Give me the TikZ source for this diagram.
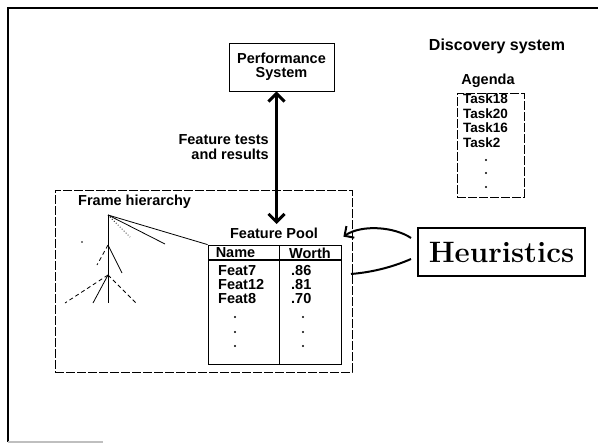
\documentclass[tikz,border=0pt]{standalone}
\usepackage{fontspec}
\setsansfont{Liberation Sans}
\usepackage{tikz}
\usetikzlibrary{arrows.meta}

\begin{document}
\begin{tikzpicture}[x=1pt,y=-1pt,
    every node/.style={font=\sffamily\bfseries\fontsize{14.5}{14.5}\selectfont,inner sep=0pt},
    box/.style={draw,thick},
    scanbox/.style={draw,thick,dash pattern=on 9pt off 2pt},
    tasktext/.style={anchor=west,font=\sffamily\bfseries\fontsize{13.5}{14.5}\selectfont},
    twoway/.style={line width=3pt,{Straight Barb[length=8pt,width=16pt]}-{Straight Barb[length=8pt,width=16pt]}},
    heurline/.style={line width=2pt},
    dot/.style={fill=black}]

    \useasboundingbox (0,0) rectangle (598,444);

    % page frame
    \draw[line width=1.5pt] (8,442) -- (8,8) -- (598,8);
    \draw[gray!50,line width=1.5pt] (8,442) -- (103,442);

    \node[box,minimum width=105pt,minimum height=48pt,align=center] (perf) at (281.5,67) {Performance\\System};
    \node[anchor=east,align=right] (tests) at (269,147) {Feature tests\\and results};

    \node[font=\sffamily\bfseries\fontsize{16}{17}\selectfont] (disc) at (497,46) {Discovery system};
    \node (agenda) at (488,81) {Agenda};
    \node[scanbox,minimum width=67pt,minimum height=104pt] (agbox) at (490.5,145) {};
    \node[tasktext] (t18) at (463,99)  {Task18};
    \node[tasktext] (t20) at (463,114) {Task20};
    \node[tasktext] (t16) at (463,128) {Task16};
    \node[tasktext] (t2)  at (463,143) {Task2};
    \fill[dot] (486,160) circle (1.2pt);
    \fill[dot] (486,173) circle (1.2pt);
    \fill[dot] (486,187) circle (1.2pt);

    % frame hierarchy
    \node[scanbox,minimum width=297pt,minimum height=182pt] (frame) at (203.5,281) {};
    \node[anchor=west] (fh) at (78,202) {Frame hierarchy};

    \coordinate (root) at (108,215);
    \coordinate (n2) at (108,245);
    \coordinate (n3) at (108,275);
    \draw[thick] (root) -- (108,303);
    \draw[thick] (root) -- (165,244);
    \draw[thick,dotted] (root) -- (130,237);
    \draw[thick] (n2) -- (122,273);
    \draw[thick,dash pattern=on 4pt off 3pt] (n2) -- (97,265);
    \draw[thick] (n3) -- (93,303);
    \draw[thick,dash pattern=on 4pt off 3pt] (n3) -- (65,303);
    \draw[thick,dash pattern=on 4pt off 3pt] (n3) -- (136,303);
    \fill[dot] (82,242) circle (0.8pt);

    % feature pool
    \node (pool) at (274,233) {Feature Pool};
    \node[draw,thick,minimum width=133pt,minimum height=119pt] (table) at (274.5,304.5) {};
    \draw[thick] (279,245) -- (279,364);
    \draw[line width=1.5pt] (208,260) -- (341,260);
    \node (name) at (235.5,253) {Name};
    \node (worth) at (310,253) {Worth};
    \node[anchor=west] (f7)  at (218,271) {Feat7};
    \node[anchor=west] (f12) at (218,285) {Feat12};
    \node[anchor=west] (f8)  at (218,299) {Feat8};
    \node[anchor=west] (w7)  at (291,271) {.86};
    \node[anchor=west] (w12) at (291,285) {.81};
    \node[anchor=west] (w8)  at (291,299) {.70};
    \foreach \y in {317,332,346} {
        \fill[dot] (235,\y) circle (1.2pt);
        \fill[dot] (303,\y) circle (1.2pt);
    }
    \draw[thick] (root) -- (table.north west);

    \draw[twoway] (perf.south -| 276.5,0) -- (276.5,224);

    \node[draw,line width=2pt,minimum width=167pt,minimum height=48pt,
          font=\rmfamily\bfseries\fontsize{29.5}{31}\selectfont] (heur) at (501.5,252) {Heuristics};

    \draw[heurline,-{Straight Barb[length=7pt,width=14pt]}]
        ([xshift=-6pt,yshift=14pt]heur.west) .. controls (395,227) and (362,224) .. ([xshift=2pt,yshift=8pt]table.north east);
    \draw[heurline]
        ([xshift=-6pt,yshift=-7pt]heur.west) .. controls (395,266) and (375,272) .. (351,274);
\end{tikzpicture}
\end{document}
